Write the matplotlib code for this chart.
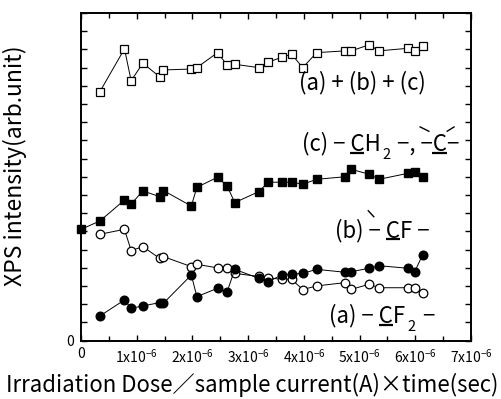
import numpy as np
import matplotlib
matplotlib.use('Agg')
import matplotlib.pyplot as plt
from matplotlib.transforms import IdentityTransform
from matplotlib.lines import Line2D

plt.rcParams['font.family'] = ['Noto Sans CJK JP', 'DejaVu Sans']
plt.rcParams['mathtext.fontset'] = 'custom'
plt.rcParams['mathtext.rm'] = 'Noto Sans CJK JP'
plt.rcParams['mathtext.it'] = 'Noto Sans CJK JP'
plt.rcParams['mathtext.bf'] = 'Noto Sans CJK JP'

# ---- data (dose in units of 1e-6 A*s) ----
dose = [0.34, 0.78, 0.90, 1.11, 1.41, 1.48, 1.98, 2.08, 2.45, 2.62, 2.76, 3.19,
        3.36, 3.60, 3.78, 3.98, 4.23, 4.74, 4.85, 5.17, 5.35, 5.87, 5.99, 6.13]
dose_ch2 = [0.0] + dose
total_abc = [13.68, 16.03, 14.28, 15.24, 14.50, 14.87, 14.92, 15.00, 15.82, 15.15,
             15.18, 15.00, 15.29, 15.57, 15.73, 15.00, 15.82, 15.92, 15.92, 16.25,
             15.92, 16.06, 15.92, 16.20]
ch2_c = [6.11, 6.57, 7.72, 7.50, 8.22, 7.91, 8.24, 7.39, 8.42, 8.97, 8.51, 7.58,
         8.18, 8.70, 8.70, 8.70, 8.59, 8.86, 9.00, 9.41, 9.14, 8.86, 9.19, 9.28, 9.00]
cf_b = [5.84, 6.11, 4.94, 5.16, 4.52, 4.61, 4.06, 4.19, 3.99, 4.00, 3.69, 3.52,
        3.45, 3.36, 3.36, 2.80, 3.00, 3.18, 2.81, 3.09, 2.90, 2.90, 2.90, 2.59]
cf2_a = [1.35, 2.23, 1.77, 1.90, 2.08, 2.05, 3.60, 2.41, 2.87, 2.65, 3.91, 3.42,
         3.23, 3.60, 3.64, 3.69, 3.91, 3.75, 3.78, 3.97, 4.11, 3.97, 3.78, 4.70]

xtick_vals = [0, 1, 2, 3, 4, 5, 6, 7]
xtick_labels = ['0'] + [r'$\mathregular{%dx10^{-6}}$' % k for k in range(1, 8)]

W, H = 502, 399
fig = plt.figure(figsize=(W / 100, H / 100), dpi=100)
ax = fig.add_axes([81 / W, (H - 340.5) / H, 390 / W, 327.5 / H])

xs = np.array(dose) * 1e-6
xs_c = np.array(dose_ch2) * 1e-6
lw = 0.7
ax.plot(xs, total_abc, '-s', color='black', lw=lw, ms=5.6, mfc='white', mec='black', mew=0.9, clip_on=False)
ax.plot(xs_c, ch2_c, '-s', color='black', lw=lw, ms=5.6, mfc='black', mec='black', clip_on=False)
ax.plot(xs, cf_b, '-o', color='black', lw=lw, ms=6.2, mfc='white', mec='black', mew=0.9, clip_on=False)
ax.plot(xs, cf2_a, '-o', color='black', lw=lw, ms=6.2, mfc='black', mec='black', clip_on=False)

ax.set_xlim(0, 7e-6)
ax.set_ylim(0, 18)
ax.set_xticks(np.array(xtick_vals) * 1e-6)
ax.set_xticklabels(xtick_labels, fontsize=10)
ax.set_xticks(np.arange(0.5, 7, 1.0) * 1e-6, minor=True)
ax.set_yticks(np.arange(0, 19, 1))
ax.set_yticklabels(['0'] + [''] * 18, fontsize=10)
ax.tick_params(which='both', direction='in', top=True, right=True, width=1.0)
ax.tick_params(which='major', length=4.5)
ax.tick_params(which='minor', length=3.5)
ax.tick_params(axis='x', pad=5)
ax.tick_params(axis='y', pad=5)
for sp in ax.spines.values():
    sp.set_linewidth(1.4)

ax.set_xlabel('Irradiation Dose／sample current(A)×time(sec)', fontsize=16)
ax.xaxis.set_label_coords((252 - 81) / 390, -0.10)
ax.set_ylabel('XPS intensity(arb.unit)', fontsize=16.5)
ax.yaxis.set_label_coords((27 - 81) / 390, 0.535)

# ---- annotations ----
fs = 16
fs_sub = 10.5
fig.canvas.draw()
renderer = fig.canvas.get_renderer()
ID = IdentityTransform()


def width(s, size=fs):
    t = fig.text(0, 0, s, fontsize=size, ha='left', va='baseline', transform=ID)
    w = t.get_window_extent(renderer).width
    t.remove()
    return w


space_w = width('a a') - width('aa')
fs_px = fs * 100 / 72
cap = 0.733 * fs_px


def seg(p, q, lwid):
    fig.add_artist(Line2D([p[0], q[0]], [p[1], q[1]], transform=ID,
                          color='black', lw=lwid, solid_capstyle='butt'))


def draw_rich(fx, fy, runs):
    """runs: list of (text, is_subscript); '§' marks the next char as underlined."""
    x, yb = ax.transAxes.transform((fx, fy))
    boxes = []
    for s, is_sub in runs:
        lead = len(s) - len(s.lstrip(' '))
        x += lead * space_w
        s = s.lstrip(' ')
        plain, marks, flag = '', [], False
        for ch in s:
            if ch == '§':
                flag = True
                continue
            if flag:
                marks.append(len(plain))
                flag = False
            plain += ch
        if is_sub:
            fig.text(x + 0.5, yb + 2.5, plain, fontsize=fs_sub, ha='left', va='top', transform=ID)
            x += width(plain, fs_sub) + 1.5
        else:
            fig.text(x, yb, plain, fontsize=fs, ha='left', va='baseline', transform=ID)
            for i in marks:
                r = x + width(plain[:i + 1])
                l = r - width(plain[i])
                boxes.append((l, r))
            x += width(plain) + 1.5
    return boxes, yb


def underline(box, yb):
    seg((box[0], yb - 2.3), (box[1], yb - 2.3), 1.6)


draw_rich(0.56, 0.768, [('(a) + (b) + (c)', False)])

boxes, yb = draw_rich(0.566, 0.579, [('(c) − §CH', False), ('2', True), (' −, −§C−', False)])
for b in boxes:
    underline(b, yb)
cx0, cx1 = boxes[1]
ytop = yb + cap
seg((cx0 - 13, ytop + 8), (cx0 - 3, ytop + 3), 1.0)
seg((cx1, ytop + 3), (cx1 + 8, ytop + 8), 1.0)

boxes, yb = draw_rich(0.651, 0.316, [('(b) − §CF −', False)])
underline(boxes[0], yb)
cx0, cx1 = boxes[0]
ytop = yb + cap
seg((cx0 - 18, ytop + 10.5), (cx0 - 11.5, ytop + 3.5), 1.0)

boxes, yb = draw_rich(0.637, 0.055, [('(a) − §CF', False), ('2', True), (' −', False)])
underline(boxes[0], yb)

fig.savefig('out.png', dpi=100)
